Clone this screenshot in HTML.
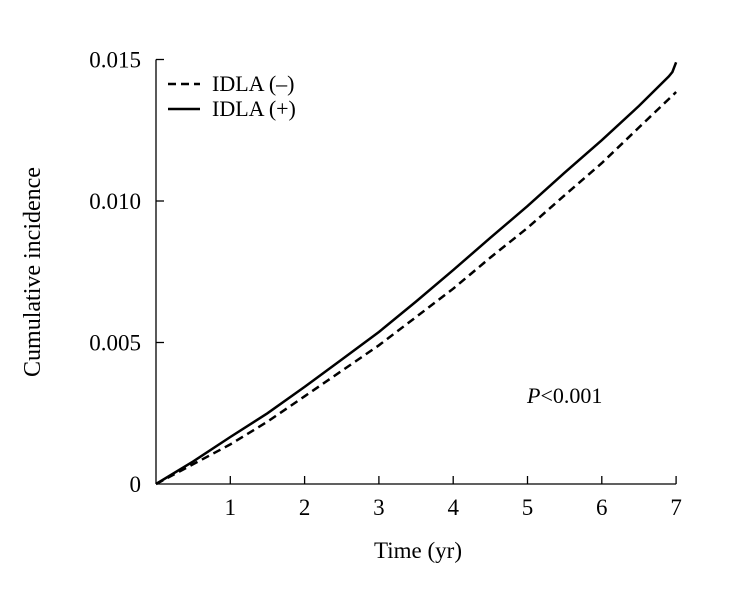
<!DOCTYPE html>
<html><head><meta charset="utf-8"><style>
body{margin:0;background:#fff}
svg text{font-family:"Liberation Serif",serif;fill:#000}
</style></head><body>
<svg id="chart" width="735" height="602" viewBox="0 0 735 602" xmlns="http://www.w3.org/2000/svg">
<g id="axes"></g>
<g id="series"></g>
<g>
 <line x1="168" y1="84" x2="200" y2="84" stroke="#000" stroke-width="2.5" stroke-dasharray="8,5"/>
 <text x="212" y="91" font-size="22">IDLA (–)</text>
 <line x1="168" y1="109" x2="200" y2="109" stroke="#000" stroke-width="2.5"/>
 <text x="212" y="116" font-size="22">IDLA (+)</text>
</g>
<text x="527" y="403" font-size="22"><tspan font-style="italic">P</tspan>&lt;0.001</text>
<text x="418" y="558" font-size="23" text-anchor="middle">Time (yr)</text>
<text transform="translate(40,272) rotate(-90)" font-size="24" text-anchor="middle">Cumulative incidence</text>
</svg>
<script>
const xTicks=[1,2,3,4,5,6,7];
const yTicks=[0,0.005,0.010,0.015];
const yTickLabels=["0","0.005","0.010","0.015"];
const timePoints=[0,0.5,1,1.5,2,2.5,3,3.5,4,4.5,5,5.5,6,6.5,6.9,6.95,7];
const idlaPos=[0,0.0008,0.00166,0.0025,0.00343,0.0044,0.00537,0.00645,0.00756,0.0087,0.00982,0.011,0.01215,0.01336,0.0144,0.01456,0.0149];
const idlaNeg=[0,0.0007,0.0014,0.0022,0.0031,0.0040,0.0049,0.0059,0.0069,0.0080,0.00905,0.0102,0.01134,0.0126,0.0136,0.01372,0.01385];
const X0=156,XW=74.3,Y0=484,YS=28300;
const xs=v=>X0+v*XW, ys=v=>Y0-v*YS;
const NS="http://www.w3.org/2000/svg";
const axes=document.getElementById('axes'), ser=document.getElementById('series');
function mk(t,a,p){const e=document.createElementNS(NS,t);for(const k in a)e.setAttribute(k,a[k]);p.appendChild(e);return e;}
let e=mk('line',{x1:X0,y1:Y0,x2:xs(7),y2:Y0,stroke:'#000','stroke-width':1.3},axes);


e=mk('line',{x1:X0,y1:Y0,x2:X0,y2:ys(0.015),stroke:'#000','stroke-width':1.3},axes);


xTicks.forEach(v=>{
 let t=mk('line',{x1:xs(v),y1:Y0,x2:xs(v),y2:Y0-8,stroke:'#000','stroke-width':1.3},axes);
 
 
 let l=mk('text',{x:xs(v),y:Y0+31,'font-size':23,'text-anchor':'middle'},axes);l.textContent=v;
 
 
});
yTicks.forEach((v,i)=>{
 if(v>0){let t=mk('line',{x1:X0,y1:ys(v),x2:X0+8,y2:ys(v),stroke:'#000','stroke-width':1.3},axes);
 
 }
 let l=mk('text',{x:141,y:ys(v)+8,'font-size':23,'text-anchor':'end'},axes);l.textContent=yTickLabels[i];
 
 
});
function path(vals){return vals.map((v,i)=>(i?'L':'M')+xs(timePoints[i]).toFixed(1)+','+ys(v).toFixed(1)).join('');}
let p=mk('path',{d:path(idlaNeg),fill:'none',stroke:'#000','stroke-width':2.5,'stroke-dasharray':'8,5'},ser);


p=mk('path',{d:path(idlaPos),fill:'none',stroke:'#000','stroke-width':2.5},ser);


</script>
</body></html>
